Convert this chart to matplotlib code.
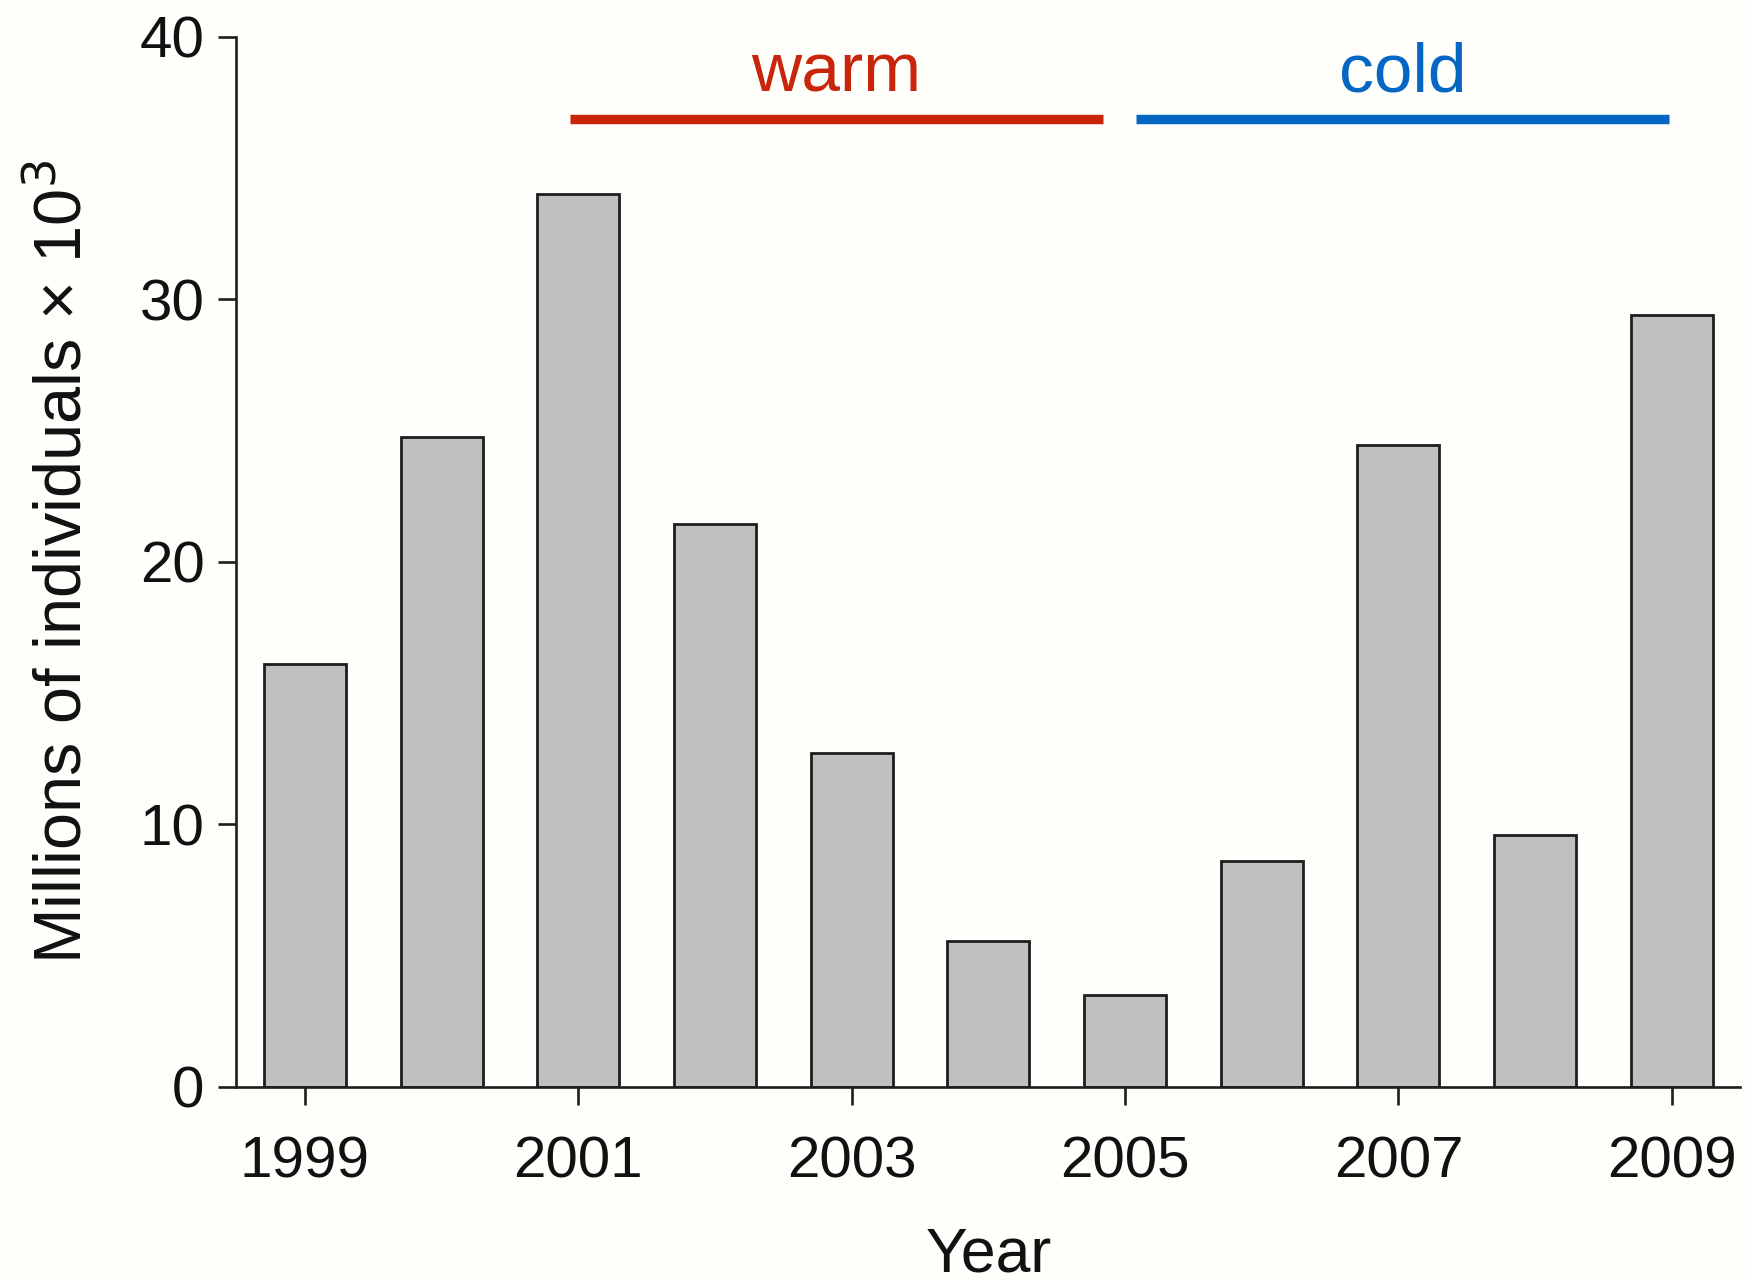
import matplotlib
matplotlib.use("Agg")
import matplotlib.pyplot as plt

years = [1999, 2000, 2001, 2002, 2003, 2004, 2005, 2006, 2007, 2008, 2009]
individuals = [16.1, 24.75, 34.0, 21.45, 12.7, 5.55, 3.5, 8.6, 24.45, 9.6, 29.4]

# warm / cold periods drawn as bars above the columns
periods = ["warm", "cold"]
period_start = [2000.94, 2005.08]
period_end = [2004.84, 2008.98]
period_colors = ["#c8250a", "#0566c3"]

ytick_values = [0, 10, 20, 30, 40]
xtick_values = [1999, 2001, 2003, 2005, 2007, 2009]

plt.rcParams["font.family"] = ["Liberation Sans", "DejaVu Sans"]

fig = plt.figure(figsize=(17.49, 12.81), dpi=100, facecolor="#fefefb")
ax = fig.add_axes([0.1352, 0.1518, 0.8598, 0.8195])
ax.set_facecolor("#fefefb")

ax.bar(years, individuals, width=0.6, color="#c0c0c0", edgecolor="#1e1e1e",
       linewidth=2.0, zorder=2)

for name, x0, x1, col in zip(periods, period_start, period_end, period_colors):
    ax.plot([x0, x1], [36.85, 36.85], color=col, linewidth=6.8,
            solid_capstyle="butt", clip_on=False)
    ax.text((x0 + x1) / 2, 37.9, name, color=col, ha="center", va="baseline",
            fontsize=50, clip_on=False)

ax.set_xlim(1998.5, 2009.5)
ax.set_ylim(0, 40)
ax.set_xticks(xtick_values)
ax.set_yticks(ytick_values)

for side in ["top", "right"]:
    ax.spines[side].set_visible(False)
for side in ["left", "bottom"]:
    ax.spines[side].set_linewidth(1.9)
    ax.spines[side].set_color("#1e1e1e")

ax.tick_params(axis="both", direction="out", length=13, width=1.9,
               color="#1e1e1e", labelsize=42, labelcolor="#111111")
ax.tick_params(axis="x", pad=22)
ax.tick_params(axis="y", pad=10)

ax.set_xlabel("Year", fontsize=45, color="#111111", labelpad=26)
ax.set_ylabel("Millions of individuals \u00d7 10$^3$", fontsize=48,
              color="#111111", labelpad=32)

fig.savefig("out.png", dpi=100, facecolor=fig.get_facecolor())
plt.close(fig)
